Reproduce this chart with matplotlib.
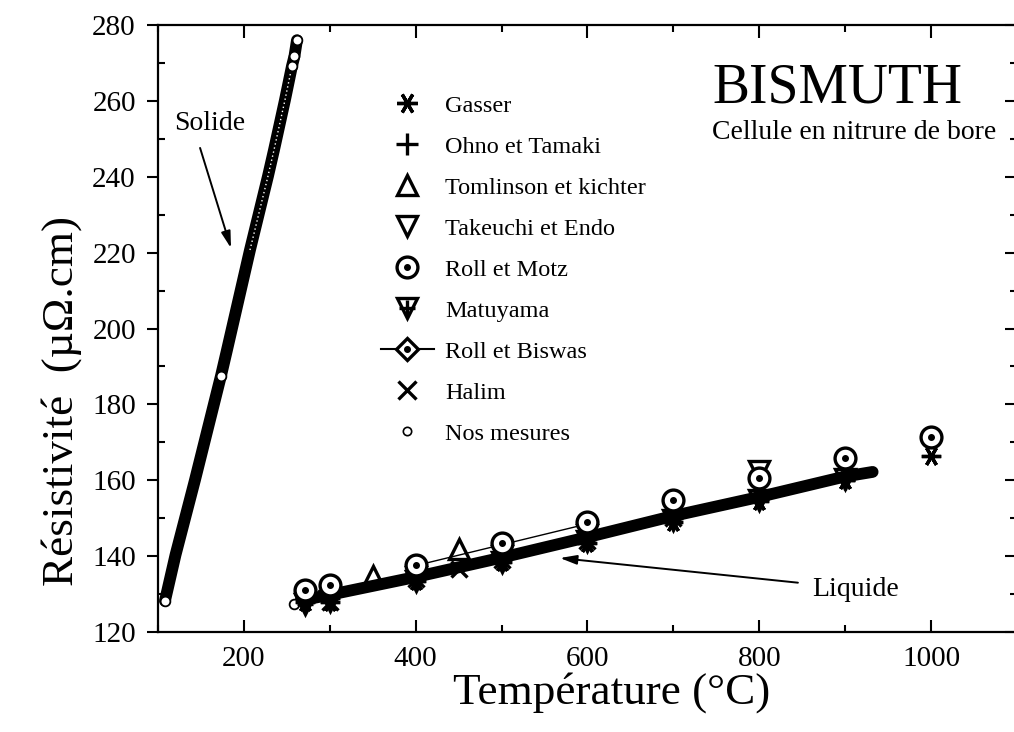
import matplotlib
matplotlib.use("Agg")
import matplotlib.pyplot as plt
from matplotlib.lines import Line2D
from matplotlib.legend_handler import HandlerTuple
from matplotlib.ticker import MultipleLocator

plt.rcParams['font.family'] = ['Liberation Serif', 'DejaVu Serif']

# ---- data ----
# our measurements, solid phase (dense chain of points)
T_sol = [108.1, 120.4, 143.1, 173.3, 180.3, 207.1, 228.1, 235.0, 247.8, 256.0, 258.9, 261.8]
R_sol = [128.2, 140.3, 160.1, 187.5, 194.3, 220.7, 240.2, 247.0, 260.2, 269.2, 271.8, 276.0]
# our measurements, liquid phase
T_liq = [258, 266, 300, 400, 500, 600, 700, 800, 900, 932]
R_liq = [127.4, 128.3, 129.8, 134.5, 139.6, 145.0, 150.6, 155.6, 161.0, 162.2]

# literature
T_gasser = [271, 300, 400, 500, 600, 700, 800, 900, 1000]
R_gasser = [128.0, 128.0, 133.5, 138.5, 143.5, 149.0, 154.5, 160.0, 166.5]
T_ohno = [300, 400, 500, 600, 700, 800, 900]
R_ohno = [129.0, 134.5, 140.0, 145.0, 150.0, 155.0, 160.0]
T_tomlinson = [350, 450]
R_tomlinson = [134.8, 142.0]
T_takeuchi = [800]
R_takeuchi = [162.5]
T_motz = [271, 300, 400, 500, 600, 700, 800, 900, 1000]
R_motz = [131.0, 132.5, 137.7, 143.5, 149.0, 154.8, 160.5, 166.0, 171.4]
T_matuyama = [271, 300, 400, 500, 600, 700, 800, 900]
R_matuyama = [127.5, 128.2, 133.5, 138.5, 144.0, 149.5, 154.8, 160.3]
T_biswas = [400, 500, 600]
R_biswas = [137.5, 143.0, 148.5]
T_halim = [300, 400, 450, 500, 600, 700]
R_halim = [128.0, 134.0, 136.5, 139.0, 144.0, 150.0]

fig = plt.figure(figsize=(10.14, 7.32), dpi=100)
ax = fig.add_axes([0.1558, 0.1366, 0.8471, 0.8292])

MEW = 2.4
# our measurements
ax.plot(T_sol, R_sol, color='k', lw=8.5, solid_capstyle='round', solid_joinstyle='round', zorder=2)
ax.plot(T_sol[5:-2], R_sol[5:-2], color='white', lw=1.0, ls=(0, (1, 2)), zorder=2.1)
ax.plot([T_sol[0], T_sol[3]] + T_sol[-3:], [R_sol[0], R_sol[3]] + R_sol[-3:], 'o',
        ms=7, mfc='white', mec='k', mew=1.3, zorder=2.2)
ax.plot(T_liq[1:], R_liq[1:], color='k', lw=8.5, solid_capstyle='round', zorder=2)
ax.plot(T_liq[:1], R_liq[:1], 'o', ms=7, mfc='white', mec='k', mew=1.3, zorder=2.2)

# literature
ax.plot(T_gasser, R_gasser, ls='none', marker=(6, 2, 90), ms=14, color='k', mew=MEW, zorder=3)
ax.plot(T_ohno, R_ohno, ls='none', marker='+', ms=15, color='k', mew=MEW, zorder=3)
ax.plot(T_tomlinson, R_tomlinson, ls='none', marker='^', ms=14, mfc='none', mec='k', mew=MEW, zorder=3)
ax.plot(T_takeuchi, R_takeuchi, ls='none', marker='v', ms=14, mfc='none', mec='k', mew=MEW, zorder=3)
ax.plot(T_matuyama, R_matuyama, ls='none', marker='v', ms=14, mfc='none', mec='k', mew=MEW, zorder=3)
ax.plot(T_matuyama, R_matuyama, ls='none', marker='+', ms=12, color='k', mew=MEW, zorder=3)
ax.plot(T_biswas, R_biswas, color='k', lw=1, marker='D', ms=10, mfc='white', mec='k', mew=MEW, zorder=3)
ax.plot(T_halim, R_halim, ls='none', marker='x', ms=12, color='k', mew=MEW, zorder=3)
ax.plot(T_motz, R_motz, ls='none', marker='o', ms=15, mfc='white', mec='k', mew=MEW, zorder=4)
ax.plot(T_motz, R_motz, ls='none', marker='o', ms=4, color='k', zorder=4)

# axes
ax.set_xlim(100, 1100)
ax.set_ylim(120, 280)
ax.xaxis.set_major_locator(MultipleLocator(200))
ax.xaxis.set_minor_locator(MultipleLocator(100))
ax.yaxis.set_major_locator(MultipleLocator(20))
ax.yaxis.set_minor_locator(MultipleLocator(10))
for s in ax.spines.values():
    s.set_linewidth(1.6)
ax.tick_params(axis='x', which='both', direction='in', top=True, width=1.5, labelsize=21, pad=10)
ax.tick_params(axis='x', which='major', length=9)
ax.tick_params(axis='x', which='minor', length=5)
ax.tick_params(axis='y', which='major', direction='out', length=8, width=1.5, labelsize=21, pad=8)
ax.tick_params(axis='y', which='minor', direction='in', length=5, width=1.5)

sec = ax.secondary_yaxis('right')
sec.yaxis.set_major_locator(MultipleLocator(20))
sec.yaxis.set_minor_locator(MultipleLocator(10))
sec.tick_params(which='both', direction='in', width=1.5, labelright=False)
sec.tick_params(which='major', length=9)
sec.tick_params(which='minor', length=5)

ax.set_xlabel('Température (°C)', fontsize=32.5)
ax.xaxis.set_label_coords(0.528, -0.066)
ax.set_ylabel('Résistivité  (µΩ.cm)', fontsize=32.5)
ax.yaxis.set_label_coords(-0.088, 0.38)

# texts and arrows
ax.text(745, 259.7, 'BISMUTH', fontsize=40, ha='left', va='baseline')
ax.text(745, 249.9, 'Cellule en nitrure de bore', fontsize=20, ha='left', va='baseline')
ax.text(160, 254, 'Solide', fontsize=20, ha='center', va='center')
ax.annotate('', xy=(185, 221.2), xytext=(149, 247.6),
            arrowprops=dict(arrowstyle='-|>,head_length=1.0,head_width=0.28', lw=1.4, color='k',
                            shrinkA=0, shrinkB=0))
ax.text(862, 131.3, 'Liquide', fontsize=20, ha='left', va='center')
ax.annotate('', xy=(568, 139.5), xytext=(845, 133),
            arrowprops=dict(arrowstyle='-|>,head_length=1.0,head_width=0.28', lw=1.4, color='k',
                            shrinkA=0, shrinkB=0))

# legend
kw = dict(ls='none', color='k', mew=MEW)
h_gasser = Line2D([], [], marker=(6, 2, 90), ms=15, **kw)
h_ohno = Line2D([], [], marker='+', ms=16, **kw)
h_tom = Line2D([], [], marker='^', ms=15, mfc='none', **kw)
h_tak = Line2D([], [], marker='v', ms=15, mfc='none', **kw)
h_motz = (Line2D([], [], marker='o', ms=15, mfc='white', **kw),
          Line2D([], [], marker='o', ms=4, ls='none', color='k'))
h_mat = (Line2D([], [], marker='v', ms=15, mfc='none', **kw),
         Line2D([], [], marker='+', ms=12, **kw))
h_bis = (Line2D([], [], color='k', lw=1.5, marker='D', ms=11, mfc='white', mec='k', mew=MEW),
         Line2D([], [], marker='o', ms=4, ls='none', color='k'))
h_hal = Line2D([], [], marker='x', ms=13, **kw)
h_nos = Line2D([], [], marker='o', ms=6, mfc='white', mec='k', mew=1.2, ls='none')

handles = [h_gasser, h_ohno, h_tom, h_tak, h_motz, h_mat, h_bis, h_hal, h_nos]
labels = ['Gasser', 'Ohno et Tamaki', 'Tomlinson et kichter', 'Takeuchi et Endo',
          'Roll et Motz', 'Matuyama', 'Roll et Biswas', 'Halim', 'Nos mesures']
ax.legend(handles, labels, loc='upper left', bbox_to_anchor=(0.248, 0.901), frameon=False,
          fontsize=17.5, handlelength=2.2, handletextpad=0.45, labelspacing=0.78,
          borderaxespad=0, handler_map={tuple: HandlerTuple(ndivide=1, pad=0)})

fig.savefig('out.png', dpi=100)
